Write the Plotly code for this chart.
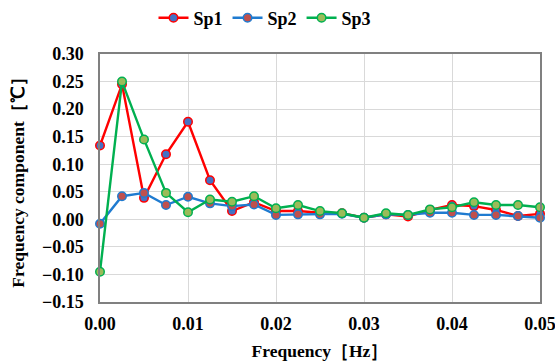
import plotly.graph_objects as go

freq = [0.0, 0.0025, 0.005, 0.0075, 0.01, 0.0125, 0.015, 0.0175, 0.02, 0.0225,
        0.025, 0.0275, 0.03, 0.0325, 0.035, 0.0375, 0.04, 0.0425, 0.045, 0.0475, 0.05]
sp1 = [0.134, 0.245, 0.039, 0.118, 0.177, 0.071, 0.015, 0.031, 0.015, 0.015,
       0.012, 0.011, 0.003, 0.009, 0.005, 0.017, 0.026, 0.024, 0.017, 0.006, 0.010]
sp2 = [-0.008, 0.042, 0.048, 0.026, 0.041, 0.029, 0.024, 0.027, 0.008, 0.009,
       0.009, 0.010, 0.003, 0.009, 0.008, 0.012, 0.012, 0.008, 0.008, 0.006, 0.003]
sp3 = [-0.095, 0.250, 0.145, 0.048, 0.013, 0.036, 0.032, 0.042, 0.020, 0.026,
       0.015, 0.011, 0.003, 0.011, 0.008, 0.018, 0.022, 0.031, 0.026, 0.026, 0.022]

series = [
    ("Sp1", sp1, "#FF0000", "#4472C4"),
    ("Sp2", sp2, "#1F7BD0", "#C0504D"),
    ("Sp3", sp3, "#00B050", "#9BBB59"),
]

font_family = "Liberation Serif, Times New Roman, serif"

fig = go.Figure()
for name, vals, lc, mc in series:
    fig.add_trace(go.Scatter(
        x=freq, y=vals, name="<b>" + name + "</b>", mode="lines+markers",
        line=dict(color=lc, width=2.4),
        marker=dict(size=8.5, color=mc, line=dict(color=lc, width=1.5)),
        cliponaxis=False,
    ))

fig.update_layout(
    width=555, height=363,
    margin=dict(l=100, r=15, t=54, b=61, autoexpand=False),
    paper_bgcolor="white", plot_bgcolor="white",
    font=dict(family=font_family, size=18, color="black"),
    showlegend=True,
    legend=dict(orientation="h", x=0.375, xanchor="center", y=1.145, yanchor="middle",
                font=dict(size=18, family=font_family),
                itemwidth=30, traceorder="normal", tracegroupgap=0),
    xaxis=dict(range=[0, 0.05], dtick=0.01, tick0=0, tickformat=".2f",
               showgrid=True, gridcolor="#D9D9D9", gridwidth=1,
               showline=True, linecolor="#808080", linewidth=1.5, mirror=True,
               zeroline=False, ticks="", automargin=False,
               ticklabeloverflow="allow", ticklabelstandoff=5,
               tickprefix="<b>", ticksuffix="</b>",
               tickfont=dict(size=18, family=font_family),
               title=dict(text="<b>Frequency［Hz］</b>", standoff=11,
                          font=dict(size=17.5, family=font_family))),
    yaxis=dict(range=[-0.15, 0.30], dtick=0.05, tick0=0, tickformat=".2f",
               showgrid=True, gridcolor="#D9D9D9", gridwidth=1,
               showline=True, linecolor="#808080", linewidth=1.5, mirror=True,
               zeroline=False, ticks="", automargin=False,
               ticklabeloverflow="allow", ticklabelstandoff=11,
               tickprefix="<b>", ticksuffix="</b>",
               tickfont=dict(size=18, family=font_family),
               title=dict(text="<b>Frequency component［℃］</b>", standoff=13,
                          font=dict(size=17.5, family=font_family))),
)

fig.write_html("out.html", config={"displayModeBar": False},
               post_script="document.body.style.margin='0';document.body.style.overflow='hidden';")
